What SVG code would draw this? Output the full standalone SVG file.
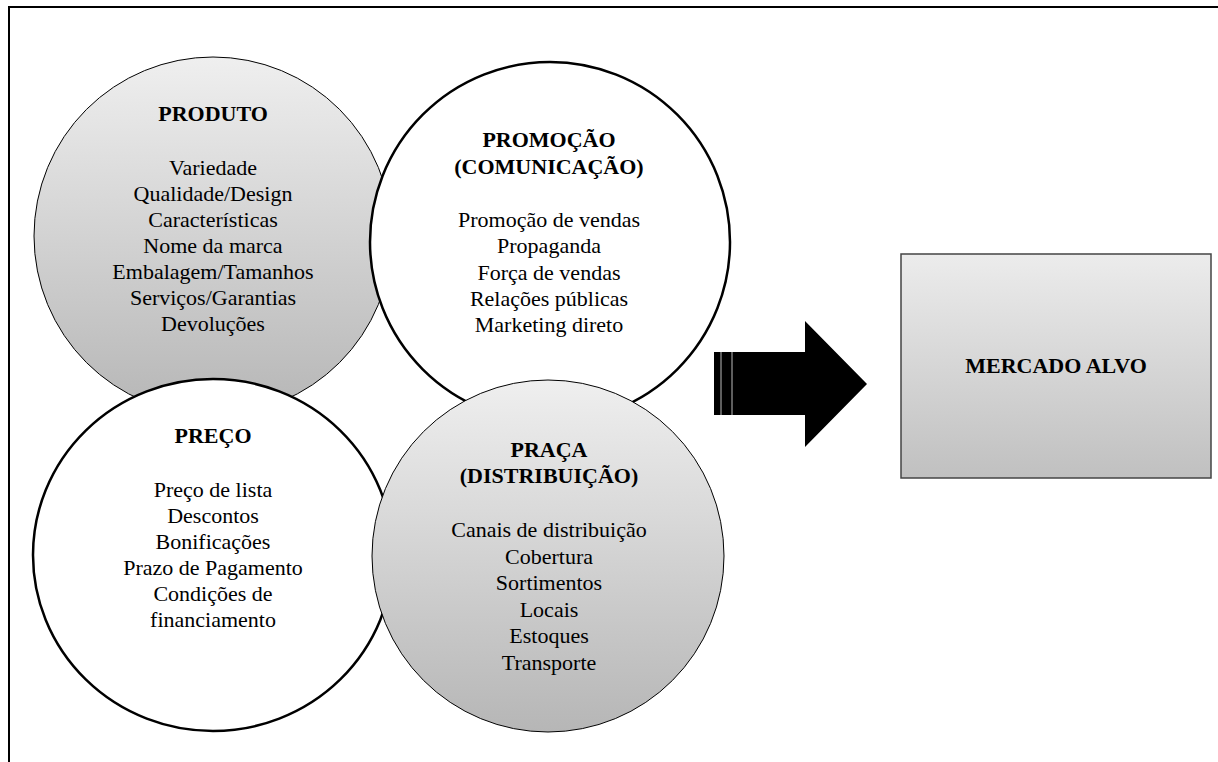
<svg xmlns="http://www.w3.org/2000/svg" width="1218" height="762" viewBox="0 0 1218 762">
  <defs>
    <linearGradient id="shade" x1="0" y1="0" x2="0" y2="1">
      <stop offset="0" stop-color="#efefef"/>
      <stop offset="1" stop-color="#b6b6b6"/>
    </linearGradient>
    <linearGradient id="boxShade" x1="0" y1="0" x2="0" y2="1">
      <stop offset="0" stop-color="#ececec"/>
      <stop offset="1" stop-color="#c0c0c0"/>
    </linearGradient>
  </defs>
  <style>
    text { font-family: "Liberation Serif", "Times New Roman", serif; font-size: 22px; fill: #000; text-anchor: middle; }
    .title { font-weight: bold; }
    .gray { fill: url(#shade); stroke: #000; stroke-width: 1; }
    .white { fill: #fff; stroke: #000; stroke-width: 2.5; }
    .frame { stroke: #000; stroke-width: 2; fill: none; }
  </style>

  <!-- outer frame: top and left edges -->
  <g id="frame">
    <line class="frame" x1="8" y1="7" x2="1218" y2="7"/>
    <line class="frame" x1="9" y1="6" x2="9" y2="762"/>
  </g>

  <g id="produto">
    <ellipse class="gray" cx="213" cy="236" rx="179" ry="179"/>
    <text class="title" x="213" y="121">PRODUTO</text>
    <text x="213" y="175">Variedade</text>
    <text x="213" y="201">Qualidade/Design</text>
    <text x="213" y="227">Características</text>
    <text x="213" y="253">Nome da marca</text>
    <text x="213" y="279">Embalagem/Tamanhos</text>
    <text x="213" y="305">Serviços/Garantias</text>
    <text x="213" y="331">Devoluções</text>
  </g>

  <g id="promocao">
    <ellipse class="white" cx="550" cy="242" rx="180" ry="180"/>
    <text class="title" x="549" y="147">PROMOÇÃO</text>
    <text class="title" x="549" y="174">(COMUNICAÇÃO)</text>
    <text x="549" y="227">Promoção de vendas</text>
    <text x="549" y="253">Propaganda</text>
    <text x="549" y="280">Força de vendas</text>
    <text x="549" y="306">Relações públicas</text>
    <text x="549" y="332">Marketing direto</text>
  </g>

  <g id="preco">
    <ellipse class="white" cx="213" cy="555" rx="180" ry="176"/>
    <text class="title" x="213" y="443">PREÇO</text>
    <text x="213" y="497">Preço de lista</text>
    <text x="213" y="523">Descontos</text>
    <text x="213" y="549">Bonificações</text>
    <text x="213" y="575">Prazo de Pagamento</text>
    <text x="213" y="601">Condições de</text>
    <text x="213" y="627">financiamento</text>
  </g>

  <g id="praca">
    <ellipse class="gray" cx="548" cy="556" rx="176" ry="176"/>
    <text class="title" x="549" y="457">PRAÇA</text>
    <text class="title" x="549" y="483">(DISTRIBUIÇÃO)</text>
    <text x="549" y="537">Canais de distribuição</text>
    <text x="549" y="563.5">Cobertura</text>
    <text x="549" y="590">Sortimentos</text>
    <text x="549" y="616.5">Locais</text>
    <text x="549" y="643">Estoques</text>
    <text x="549" y="669.5">Transporte</text>
  </g>

  <!-- striped block arrow pointing at the target market -->
  <g id="connectors">
    <polygon points="714,352 805,352 805,321 867,384 805,447 805,415 714,415" fill="#000"/>
    <line x1="721" y1="352" x2="721" y2="415" stroke="#bbbbbb" stroke-width="1"/>
    <line x1="732" y1="352" x2="732" y2="415" stroke="#bbbbbb" stroke-width="1"/>
  </g>

  <g id="mercado-alvo">
    <rect x="901" y="254" width="310" height="224" fill="url(#boxShade)" stroke="#444" stroke-width="1.5"/>
    <text class="title" x="1056" y="373">MERCADO ALVO</text>
  </g>
</svg>
